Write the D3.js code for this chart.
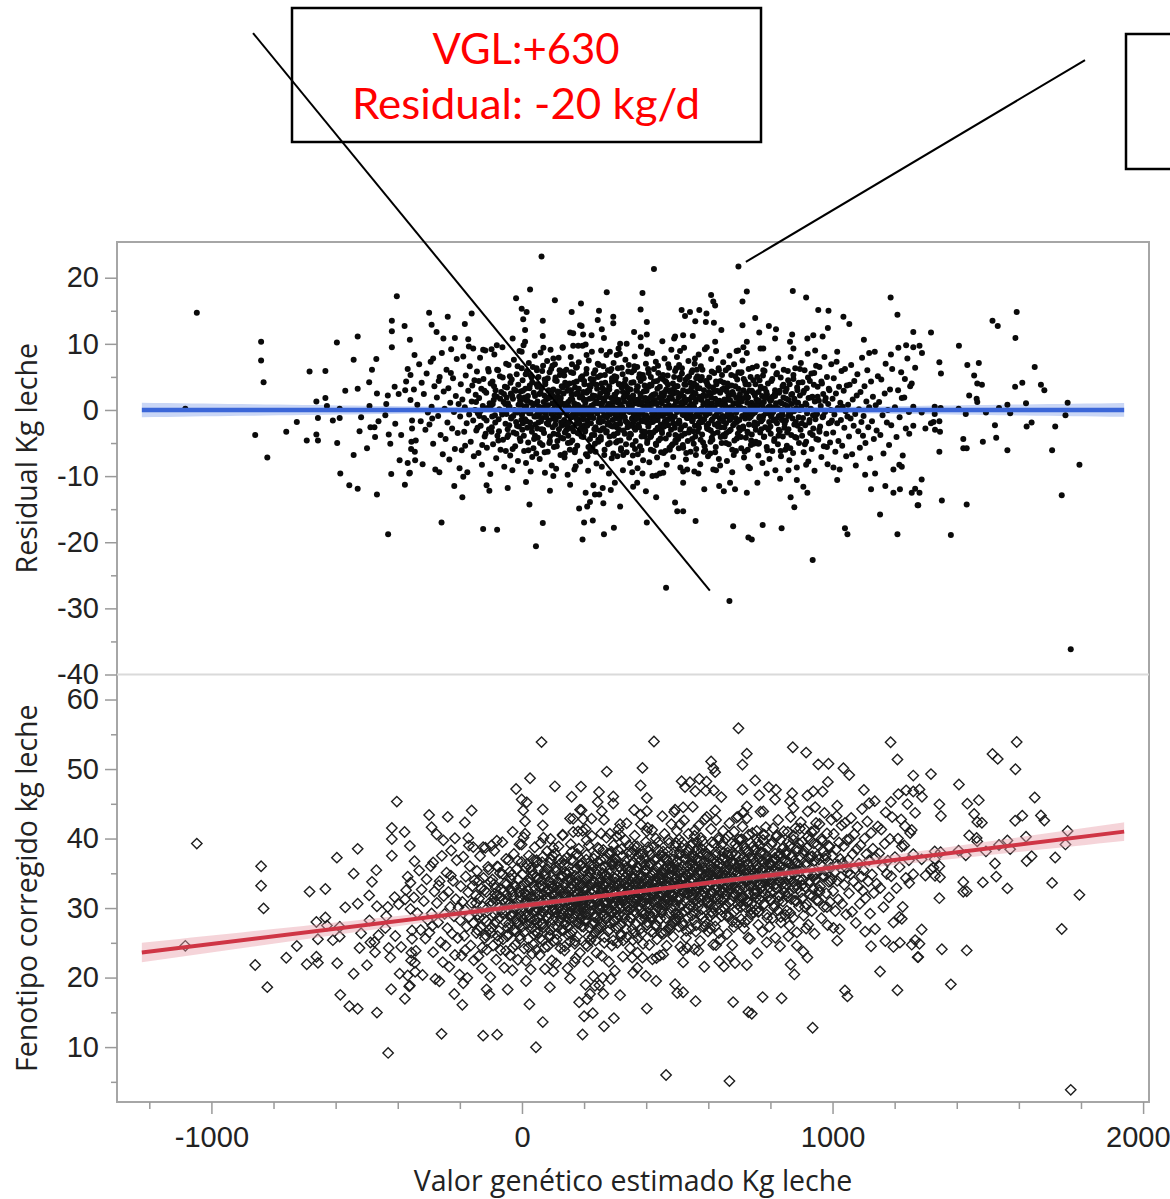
<!DOCTYPE html>
<meta charset="utf-8">
<head>
	<title>Residual y fenotipo corregido vs valor genético estimado</title>
</head>

<style>
body{
	margin: 0;
	background: #fff;
}
svg{
	display: block;
	background: #fff;
	font-family: "Open Sans", "Noto Sans", sans-serif;
}
.tick text{
	fill: #222;
	font-size: 29px;
}
.tick line{
	stroke: #9a9a9a;
	stroke-width: 1.5;
}
.titulo{
	fill: #222;
	font-size: 28.5px;
}
.nota{
	fill: #ff0000;
	font-family: Lato, "Open Sans", sans-serif;
	font-size: 43px;
}
</style>

<body>
<svg id="grafico" width="1170" height="1199"></svg>

<script src="https://cdnjs.cloudflare.com/ajax/libs/d3/7.8.5/d3.min.js"></script>
<script>

// valores: [VGL kg leche, residual kg leche]
var puntosIzquierda = [
	[-1047,14.7],[-1084,0.2],[-840,10.3],[-840,7.5],[-832,4.2],[-859,-3.8],[-820,-7.2],[-759,-3.3],[-725,-1.8],[-684,5.8],
	[-633,5.9],[-693,-4.6],[-662,-3.7],[-657,-4.6],[-662,1.3],[-633,1.8],[-657,-1.2],[-628,0.6],[-609,-1.6],[-596,10.2],
	[-595,-5.0],[-585,-9.6],[-587,0.2],[-587,-1.2],[-569,2.9],[-556,-11.4],[-542,-6.8],[-542,7.6],[-529,11.1],[-529,3.2],
	[-529,-11.9],[-523,-3.2],[-518,-1.1],[-499,-5.8],[-492,4.2],[-491,0.6],[-483,6.1],[-488,-2.6],[-475,-2.6],[-473,-4.1],
	[-467,-12.8],[-467,2.5],[-469,7.7],[-462,-1.7],[-440,-0.8],[-437,0.9],[-432,2.2],[-431,-18.8],[-429,-3.7],[-424,-5.1],
	[-421,-9.7],[-419,9.5],[-419,11.9],[-419,13.5],[-410,3.5],[-408,-2.1],[-403,17.2],[-397,2.4],[-394,-7.6],[-389,-3.8],
	[-378,12.7],[-377,-11.3],[-373,4.3],[-368,-8.0],[-368,6.2],[-361,10.6],[-361,-9.5],[-359,5.3],[-359,1.5],[-356,-4.8],
	[-354,-2.8],[-354,-1.6],[-357,-5.9],[-346,8.3],[-344,-7.6],[-376,3.0]
];

var puntosDerecha = [
	[1593,14.8],[1515,13.5],[1532,12.7],[1589,10.9],[1260,11.8],[1317,11.7],[1407,9.7],[1237,9.8],[1260,9.5],[1280,9.7],
	[1288,8.6],[1344,7.2],[1349,5.5],[1266,6.4],[1233,4.7],[1255,4.0],[1250,3.6],[1434,6.8],[1471,7.1],[1456,5.2],
	[1466,4.0],[1481,3.8],[1440,2.2],[1464,1.7],[1466,1.2],[1651,6.5],[1588,3.5],[1611,4.1],[1671,3.8],[1682,3.0],
	[1563,0.8],[1536,0.3],[1572,-0.5],[1623,1.0],[1757,1.1],[1750,-0.8],[1717,-2.5],[1625,-2.5],[1641,-1.9],[1523,-2.3],
	[1527,-4.2],[1563,-6.1],[1707,-6.1],[1795,-8.3],[1484,-4.8],[1421,-4.4],[1421,-5.8],[1432,-5.8],[1344,-6.3],[1738,-12.9],
	[1352,-13.7],[1432,-14.3],[1276,-14.4],[1287,-10.5],[1266,-11.9],[1255,-12.5],[1280,-12.5],[1381,-18.9],[1767,-36.2],[1406,0.2],
	[1429,-0.6],[1494,-0.4],[1329,0.5],[1329,-0.6],[1348,0.3],[1325,-1.8],[1344,-1.7],[1346,-3.3],[1330,-3.0],[1317,-2.0],
	[1299,-2.8],[1260,-2.4],[1247,-3.6],[1287,-0.4],[1260,0.5],[1223,-8.6],[1223,1.8]
];

var puntosArriba = [
	[63,23.2],[425,21.3],[697,21.7],[26,18.2],[-19,16.9],[106,16.6],[190,16.1],[273,17.8],[388,17.7],[724,17.9],
	[710,16.4],[872,18.0],[915,17.0],[1187,17.0],[1209,14.4],[609,17.4],[616,16.4],[622,15.8],[-299,14.7],[-239,14.1],
	[-162,14.6],[-184,13.0],[-291,12.9],[-275,11.8],[-253,10.8],[-216,10.9],[-173,10.7],[-157,9.3],[-125,9.1],[-98,9.2],
	[-81,9.8],[15,14.8],[-1,15.3],[4,13.7],[10,12.1],[10,10.3],[-30,10.8],[67,13.5],[67,11.2],[69,9.4],
	[160,14.8],[187,12.8],[192,12.7],[155,11.7],[165,11.6],[197,11.4],[224,11.3],[248,15.0],[244,13.6],[257,12.2],
	[264,10.9],[294,14.1],[294,13.1],[131,9.5],[165,9.7],[181,9.7],[316,10.0],[337,10.0],[361,11.8],[382,15.2],
	[402,13.3],[402,11.4],[382,11.0],[452,10.4],[490,10.8],[519,11.3],[550,11.2],[514,15.1],[525,14.2],[541,14.8],
	[558,13.4],[571,15.1],[594,14.6],[592,13.3],[618,13.2],[642,12.1],[710,12.8],[751,13.9],[764,11.7],[795,12.7],
	[818,12.2],[870,11.4],[954,15.1],[987,15.0],[985,12.4],[968,11.1],[919,10.8],[938,11.3],[1035,14.1],[1054,13.0],
	[1101,10.6],[1118,8.6],[1188,8.4],[1212,9.4],[1015,8.8],[944,9.0],[874,9.3],[863,10.3],[815,10.8],[777,9.3],
	[724,10.3],[713,9.5],[691,8.9],[622,10.3],[595,9.5],[557,7.8],[509,8.9],[493,11.1],[402,8.5],[283,8.8],
	[305,8.3],[208,8.3],[101,7.8],[-1,8.8],[-286,7.8]
];

var puntosAbajo = [
	[-259,-17.0],[-125,-18.0],[-80,-18.1],[45,-20.6],[67,-17.1],[24,-14.3],[195,-19.6],[200,-17.0],[228,-16.7],[264,-18.8],
	[296,-17.8],[184,-14.9],[210,-14.6],[219,-13.9],[262,-14.1],[316,-14.6],[402,-17.0],[464,-26.9],[668,-28.9],[493,-14.0],
	[500,-15.3],[519,-15.3],[559,-16.8],[680,-17.6],[729,-19.3],[740,-19.6],[775,-17.4],[836,-17.9],[936,-22.7],[1040,-17.9],
	[1048,-18.8],[1209,-18.8],[1153,-15.8],[1274,-14.4],[877,-14.7],[865,-13.2],[432,-13.2],[399,-12.3],[371,-11.0],[358,-11.6],
	[-363,-9.6],[-266,-9.4],[-218,-11.5],[-192,-13.2],[-189,-10.1],[-114,-11.4],[-105,-12.2],[-46,-11.8],[13,-10.9],[90,-12.2],
	[101,-10.0],[155,-11.3],[205,-12.5],[230,-11.4],[235,-12.8],[249,-12.8],[260,-11.8],[286,-12.1],[299,-11.0],[519,-11.0],
	[587,-12.0],[635,-11.5],[650,-12.3],[686,-12.0],[724,-12.5],[758,-11.0],[885,-10.6],[906,-11.6],[919,-12.5],[1015,-10.6],
	[1124,-12.0],[1170,-11.5],[1196,-12.5],[1217,-12.0],[1105,-9.8],[1137,-9.6],[1003,-8.7],[1215,-8.3],[915,-8.3],[858,-9.1],
	[831,-10.4],[788,-9.6],[729,-8.6],[670,-11.0],[625,-9.1],[568,-9.6],[519,-9.3],[444,-9.6],[420,-10.0],[388,-9.6]
];

var puntosCentro = [
	[-348,3.1],[-342,-4.6],[-337,0.8],[-331,6.9],[-326,-1.7],[-320,-8.2],[-316,2.4],[-311,-3.0],[-307,5.5],[-303,-0.4],[-345,-6.3],[-323,4.1],
	[-298,-2.2],[-294,7.3],[-291,0.5],[-286,-5.1],[-282,3.6],[-279,-9.0],[-274,1.9],[-270,-0.9],[-265,5.0],[-262,-3.8],[-258,8.6],[-255,-6.7],[-252,2.8],[-289,-1.3],[-268,4.4],
	[-249,0.2],[-246,-4.4],[-243,6.1],[-240,-1.9],[-237,3.3],[-234,-7.5],[-231,1.1],[-228,9.2],[-225,-2.8],[-222,4.8],[-219,-0.3],[-216,-5.9],[-213,2.1],[-210,7.7],[-207,-3.5],[-204,0.9],[-201,-8.8],[-229,5.6],
	[-199,-1.0],[-197,3.9],[-194,-6.1],[-192,1.6],[-189,8.1],[-186,-3.3],[-184,0.4],[-181,5.2],[-178,-2.0],[-176,-9.4],[-173,2.9],[-170,-0.7],[-168,6.6],[-165,-4.8],[-162,1.3],[-160,3.7],[-157,-1.6],[-155,-7.0],[-153,4.5],[-151,0.0],[-183,-5.4],[-171,9.6],
	[-149,2.3],[-147,-3.1],[-145,5.8],[-142,-0.5],[-140,-6.5],[-138,1.8],[-135,7.9],[-133,-2.4],[-131,3.2],[-129,-8.3],[-126,0.6],[-124,4.7],[-122,-1.2],[-120,-4.0],[-118,9.0],[-115,2.6],[-113,-5.7],[-111,0.3],[-109,6.2],[-106,-2.9],[-104,1.0],[-102,-9.7],[-101,4.0],[-137,-0.9],[-117,-3.6],
	[-99,0.7],[-97,-2.6],[-95,4.3],[-93,-5.2],[-91,1.5],[-89,8.4],[-87,-0.8],[-85,3.0],[-83,-7.3],[-81,2.0],[-79,-3.9],[-77,6.0],[-75,-1.4],[-73,0.1],[-71,5.1],[-69,-6.0],[-67,2.7],[-65,-0.2],[-63,9.5],[-61,-4.5],[-59,1.2],[-57,-8.6],[-55,3.5],[-53,-2.1],[-51,7.0],[-96,-1.0],[-88,2.2],[-74,-3.2],[-62,4.9],[-54,0.9],
	[-50,-0.6],[-48,3.4],[-47,-4.1],[-45,1.0],[-43,6.8],[-41,-2.3],[-40,0.5],[-38,-6.9],[-36,2.5],[-34,-1.1],[-33,4.6],[-31,-9.1],[-29,1.7],[-27,-3.4],[-26,7.6],[-24,0.0],[-22,-5.5],[-20,2.9],[-19,-1.8],[-17,5.4],[-15,-0.4],[-13,-7.7],[-12,3.8],[-10,-2.5],[-8,8.9],[-6,1.4],[-5,-4.7],[-3,0.8],[-1,6.3],[-46,-2.9],[-37,4.1],[-28,-0.9],[-18,-3.6],[-9,2.0],[-2,-1.5],
	[1,-3.0],[2,4.5],[4,-0.3],[5,9.8],[7,-6.2],[8,1.9],[10,-1.4],[11,3.2],[13,-8.0],[14,0.6],[16,5.9],[17,-2.7],[19,2.1],[20,-4.9],[22,7.1],[23,-0.5],[25,3.7],[26,-1.9],[28,-9.3],[29,1.1],[31,4.9],[32,-3.3],[34,0.2],[35,6.5],[37,-5.8],[38,2.6],[40,-1.0],[41,8.2],[43,-2.2],[44,0.9],[46,-6.6],[47,3.9],[49,-0.7],[3,-2.0],[12,1.5],[21,-0.1],[27,5.3],[33,-7.1],[42,-3.9],[48,6.0],
	[50,1.3],[51,-4.2],[53,5.0],[54,-0.9],[56,2.4],[57,-7.4],[59,0.1],[60,8.7],[62,-2.9],[63,3.3],[65,-1.2],[66,-5.3],[68,6.7],[69,0.4],[71,-3.5],[72,2.2],[74,-9.5],[75,4.2],[77,-0.6],[78,1.6],[80,-2.0],[81,7.4],[83,-6.3],[84,0.7],[86,3.0],[87,-1.6],[89,5.7],[90,-4.0],[92,9.1],[93,-0.2],[95,2.8],[96,-8.4],[98,1.0],[99,-2.6],[52,3.6],[61,-1.7],[67,-3.0],[73,4.6],[82,1.9],[88,-5.0],[94,6.2],[97,0.0],
	[100,-1.3],[101,3.1],[103,-5.6],[104,0.8],[106,6.9],[107,-2.2],[109,1.4],[110,-8.9],[112,4.4],[113,-0.4],[115,2.0],[116,-3.7],[118,7.9],[119,-1.0],[121,0.3],[122,5.3],[124,-6.8],[125,1.8],[127,-2.4],[128,3.6],[130,-0.1],[131,9.4],[133,-4.3],[134,2.5],[136,-1.5],[137,-7.2],[139,4.1],[140,0.6],[142,-3.1],[143,6.1],[145,-0.8],[146,2.9],[148,-5.0],[149,1.2],[102,-0.9],[108,4.9],[114,-4.7],[120,2.7],[126,-1.9],[132,0.9],[138,-3.4],[144,3.8],[147,-9.8],[135,5.8],
	[150,0.5],[151,-2.8],[153,4.0],[154,-6.0],[156,1.6],[157,8.0],[159,-1.1],[160,2.3],[162,-4.6],[163,0.0],[165,5.6],[166,-3.2],[168,1.0],[169,-9.0],[171,3.4],[172,-0.6],[174,6.4],[175,-2.1],[177,0.8],[178,-5.4],[180,2.6],[181,-1.4],[183,7.2],[184,-3.6],[186,1.9],[187,-7.8],[189,4.7],[190,-0.3],[192,2.1],[193,-2.5],[195,9.7],[196,0.4],[198,-4.1],[199,1.5],[152,-1.8],[158,3.0],[164,-0.7],[170,-6.4],[176,4.3],[182,0.2],[188,-2.9],[194,5.1],[197,-1.0],[161,6.9],[173,-8.5],[185,-0.1],
	[200,-0.2],[201,3.9],[203,-3.3],[204,1.1],[206,-6.7],[207,5.5],[209,0.3],[210,-1.6],[212,2.9],[213,-9.2],[215,7.5],[216,-0.9],[218,1.7],[219,-4.4],[221,3.5],[222,-2.0],[224,0.6],[225,8.8],[227,-5.7],[228,2.2],[230,-1.2],[231,4.6],[233,-3.8],[234,0.0],[236,6.0],[237,-2.6],[239,1.3],[240,-8.1],[242,3.2],[243,-0.5],[245,5.0],[246,-4.8],[248,1.9],[249,-1.4],[202,-2.3],[208,2.6],[214,-0.4],[220,-6.2],[226,4.0],[232,0.9],[238,-3.0],[244,7.0],[247,-1.8],[205,9.9],[211,-7.0],[217,3.7],[223,-0.8],[235,-5.1],
	[250,2.0],[251,-1.9],[253,5.2],[254,-4.5],[256,0.7],[257,-8.6],[259,3.3],[260,-0.2],[262,6.6],[263,-2.8],[265,1.4],[266,-6.0],[268,4.1],[269,0.1],[271,-3.4],[272,8.3],[274,-1.1],[275,2.5],[277,-5.2],[278,0.9],[280,-9.6],[281,3.6],[283,-0.7],[284,5.9],[286,-2.4],[287,1.8],[289,-7.3],[290,4.8],[292,-1.5],[293,0.4],[295,7.1],[296,-3.9],[298,2.3],[299,-0.6],[252,-3.1],[258,1.0],[264,-0.9],[270,3.0],[276,-2.2],[282,-4.0],[288,6.2],[294,-6.6],[297,1.2],[255,9.0],[261,-1.7],[267,2.8],[279,-0.3],[291,4.4],
	[300,-1.3],[301,4.5],[303,-4.9],[304,0.2],[306,2.7],[307,-7.0],[309,6.3],[310,-0.8],[312,1.5],[313,-3.0],[315,8.5],[316,-2.1],[318,0.6],[319,-5.8],[321,3.4],[322,-1.0],[324,5.4],[325,-9.1],[327,1.9],[328,-0.4],[330,4.0],[331,-3.6],[333,7.6],[334,-1.7],[336,0.0],[337,-6.4],[339,2.6],[340,-2.6],[342,5.8],[343,0.8],[345,-4.2],[346,1.1],[348,-8.0],[349,3.1],[302,1.7],[308,-3.5],[314,3.9],[320,-0.5],[326,-6.8],[332,2.2],[338,-1.9],[344,6.8],[347,-0.2],[305,-2.6],[311,9.3],[317,-4.6],[323,0.4],[335,3.6],
	[350,0.3],[351,-3.7],[353,5.7],[354,-1.3],[356,2.0],[357,-6.9],[359,4.2],[360,-0.1],[362,-2.7],[363,8.1],[365,1.0],[366,-4.7],[368,3.0],[369,-0.7],[371,6.5],[372,-8.8],[374,1.6],[375,-2.2],[377,4.9],[378,-0.5],[380,-5.5],[381,2.4],[383,9.6],[384,-1.6],[386,0.8],[387,-3.2],[389,5.3],[390,-7.6],[392,2.8],[393,-0.9],[395,3.7],[396,-4.0],[398,0.5],[399,7.0],[352,1.4],[358,-2.0],[364,-5.9],[370,2.9],[376,-1.0],[382,4.4],[388,-0.3],[394,-3.4],[397,1.8],[355,-9.4],[361,6.0],[367,-1.4],[373,3.5],[385,-6.1],
	[400,-0.8],[401,2.9],[403,-5.0],[404,1.2],[406,6.2],[407,-2.5],[409,0.4],[410,-7.9],[412,3.8],[413,-1.2],[415,5.0],[416,-3.9],[418,0.0],[419,8.6],[421,-1.8],[422,2.3],[424,-6.2],[425,4.3],[427,-0.4],[428,1.5],[430,-3.1],[431,7.3],[433,-9.9],[434,0.9],[436,3.2],[437,-1.5],[439,5.6],[440,-4.6],[442,1.9],[443,-0.6],[445,-2.9],[446,4.8],[448,-6.4],[449,2.5],[402,-1.9],[408,3.5],[414,-4.1],[420,1.1],[426,-0.9],[432,-5.3],[438,6.7],[444,0.2],[447,-2.2],[405,9.0],[411,-3.4],[417,2.1],[423,-0.2],[435,-7.2],
	[450,1.0],[451,-3.5],[453,4.7],[454,-0.9],[456,-6.5],[457,2.2],[459,7.8],[460,-1.7],[462,0.5],[463,-4.3],[465,3.1],[466,-8.3],[468,1.4],[469,5.2],[471,-2.3],[472,0.1],[474,6.4],[475,-5.7],[477,2.7],[478,-0.7],[480,-3.0],[481,9.1],[483,1.7],[484,-1.4],[486,4.0],[487,-7.1],[489,0.6],[490,3.3],[492,-2.7],[493,5.9],[495,-4.9],[496,1.3],[498,-0.2],[499,8.0],[452,2.0],[458,-2.1],[464,-0.5],[470,3.8],[476,-6.0],[482,-1.1],[488,2.5],[494,-3.8],[497,6.3],[455,-9.5],[461,4.4],[467,-1.6],[473,0.7],[485,-5.2],
	[500,-0.3],[501,3.6],[503,-4.4],[504,1.9],[506,6.8],[507,-1.9],[509,0.3],[510,-8.7],[512,2.4],[513,-2.6],[515,5.5],[516,0.7],[518,-5.3],[519,3.0],[521,-0.8],[522,9.4],[524,-3.6],[525,1.1],[527,4.6],[528,-7.5],[530,0.2],[531,-1.2],[533,2.8],[534,-4.7],[536,7.4],[537,-0.4],[539,1.6],[540,-2.9],[542,4.1],[543,-6.3],[545,0.9],[546,3.4],[548,-1.7],[549,6.0],[502,-2.0],[508,4.9],[514,-3.9],[520,1.3],[526,-0.6],[532,-9.0],[538,5.1],[544,-1.0],[547,2.0],[505,-5.8],[511,0.0],[523,3.9],
	[550,-1.5],[551,2.6],[553,-5.1],[554,0.5],[556,7.0],[557,-2.4],[559,1.2],[560,-6.8],[562,3.7],[563,-0.6],[565,5.1],[566,-3.3],[568,0.0],[569,8.4],[571,-1.9],[572,2.0],[574,-8.2],[575,4.5],[577,-0.3],[578,1.5],[580,-3.7],[581,6.1],[583,-4.9],[584,0.8],[586,3.0],[587,-1.4],[589,9.2],[590,-6.1],[592,2.1],[593,-0.8],[595,4.2],[596,-2.8],[598,0.4],[599,-7.0],[552,1.9],[558,-4.0],[564,3.3],[570,-2.0],[576,6.6],[582,-0.1],[588,-5.5],[594,1.0],[597,3.8],[555,-9.3],[561,4.8],[573,-1.1],
	[600,0.6],[601,-2.9],[603,4.9],[604,-0.5],[606,-6.6],[607,2.3],[609,7.7],[610,-1.6],[612,1.0],[613,-4.5],[615,3.4],[616,-9.0],[618,0.2],[619,5.6],[621,-2.2],[622,1.7],[624,-5.6],[625,8.9],[627,-0.7],[628,2.9],[630,-3.4],[631,0.9],[633,6.3],[634,-7.4],[636,1.4],[637,-1.3],[639,4.4],[640,-2.6],[642,0.0],[643,-5.0],[645,3.1],[646,-0.9],[648,7.2],[649,-3.8],[602,2.7],[608,-3.1],[614,0.4],[620,-1.0],[626,3.9],[632,-2.0],[638,-8.4],[644,5.3],[647,1.2],[611,-4.2],
	[650,-1.1],[651,3.3],[653,-4.0],[654,0.8],[656,6.0],[657,-2.0],[659,1.5],[660,-7.7],[662,4.0],[663,-0.2],[665,2.2],[666,-5.2],[668,8.2],[669,-1.5],[671,0.4],[672,-3.0],[674,5.3],[675,-0.8],[677,-9.4],[678,2.7],[680,-2.3],[681,1.0],[683,6.9],[684,-4.6],[686,0.0],[687,3.6],[689,-6.2],[690,1.8],[692,-1.8],[693,4.6],[695,-3.6],[696,9.0],[698,0.6],[699,-2.7],[652,1.6],[658,-3.5],[664,3.6],[670,-0.6],[676,2.4],[682,-6.8],[688,-1.2],[694,0.9],[697,5.7],[661,-1.0],
	[700,2.0],[701,-3.1],[703,0.4],[704,5.6],[706,-5.8],[707,1.3],[709,-0.9],[710,7.5],[712,-2.5],[713,3.0],[715,-7.2],[716,0.2],[718,4.3],[719,-1.3],[721,-4.2],[722,2.5],[724,8.6],[725,-0.4],[727,-6.0],[728,1.9],[730,3.8],[731,-2.2],[733,0.0],[734,-8.8],[736,5.0],[737,-1.0],[739,1.1],[740,-3.7],[742,6.4],[743,-0.6],[745,2.6],[746,-5.1],[748,0.7],[749,-1.9],[702,1.5],[708,-2.8],[714,4.7],[720,-0.3],[726,-3.3],[732,2.9],[738,-4.6],[744,0.5],
	[750,-0.4],[752,3.9],[753,-4.8],[755,1.6],[756,6.6],[758,-2.1],[759,0.3],[761,-6.9],[762,2.7],[764,-1.2],[765,4.5],[767,-3.4],[768,9.3],[770,0.9],[771,-1.7],[773,2.1],[774,-8.0],[776,5.2],[777,-0.9],[779,1.2],[780,-4.0],[782,3.2],[783,-2.6],[785,7.0],[786,0.1],[788,-5.6],[789,2.3],[791,-0.5],[792,4.0],[794,-3.0],[795,1.7],[797,-7.4],[798,0.6],[751,-2.4],[757,1.0],[763,-5.0],[769,3.5],[775,-1.4],[781,5.9],[787,-0.2],
	[800,1.4],[801,-3.6],[803,4.4],[804,-0.7],[806,-6.2],[807,2.0],[809,6.7],[810,-1.6],[812,0.4],[813,-4.4],[815,3.0],[816,-9.1],[818,1.0],[819,5.4],[821,-2.0],[822,0.2],[824,-5.2],[825,7.8],[827,-0.9],[828,2.6],[830,-3.2],[831,1.2],[833,4.9],[834,-7.0],[836,0.0],[837,-1.5],[839,3.6],[840,-4.0],[842,1.9],[843,6.1],[845,-2.7],[846,0.8],[848,-6.0],[849,2.8],[802,-1.0],[814,2.4],[826,-3.9],[838,-0.4],
	[850,-1.6],[852,3.2],[853,-5.4],[855,0.6],[856,5.9],[858,-2.9],[859,1.5],[861,-7.6],[862,3.9],[864,-0.6],[865,8.0],[867,-3.8],[868,0.9],[870,2.4],[871,-1.3],[873,-6.5],[874,4.7],[876,-0.2],[877,1.7],[879,-4.1],[880,6.3],[882,-1.8],[883,0.3],[885,-8.7],[886,3.4],[888,-2.4],[889,1.1],[891,4.1],[892,-5.0],[894,0.0],[895,2.2],[897,-3.0],[898,7.1],[857,-0.9],
	[900,0.5],[902,-3.9],[903,4.2],[905,-1.2],[907,-6.4],[908,2.9],[910,6.0],[912,-2.3],[913,1.0],[915,-4.8],[917,3.3],[918,-0.5],[920,8.5],[922,-7.8],[923,1.8],[925,-1.9],[927,4.4],[928,-3.5],[930,0.2],[932,5.5],[933,-5.9],[935,2.0],[937,-0.8],[938,-2.8],[940,3.8],[942,-9.2],[943,1.3],[945,-1.4],[947,6.7],[948,-4.4],
	[950,-0.6],[952,3.5],[954,-4.5],[956,1.4],[958,6.5],[960,-2.5],[962,0.6],[964,-7.1],[966,4.0],[968,-1.1],[970,2.4],[972,-5.5],[974,8.0],[976,-0.3],[978,1.8],[980,-3.6],[982,5.0],[984,-8.2],[986,0.9],[988,-2.0],[990,3.0],[992,-4.9],[994,0.0],[996,6.9],[998,-1.6],[957,-3.0],
	[1000,1.7],[1002,-3.4],[1004,4.8],[1006,-0.7],[1009,-6.3],[1011,2.5],[1013,7.3],[1015,-2.0],[1017,0.3],[1019,-4.7],[1021,3.5],[1023,-9.0],[1025,1.1],[1027,-1.5],[1029,5.9],[1031,-5.4],[1033,0.5],[1036,2.9],[1038,-2.7],[1040,6.2],[1042,-0.2],[1044,-7.0],[1046,3.7],[1048,-1.0],
	[1050,0.8],[1053,-4.0],[1055,3.8],[1058,-1.3],[1060,6.8],[1063,-6.7],[1065,1.6],[1068,-2.4],[1070,4.4],[1073,-0.6],[1075,-8.4],[1078,2.2],[1080,5.4],[1083,-3.2],[1085,0.1],[1088,-5.7],[1090,2.7],[1093,-1.8],[1095,7.9],[1098,-3.9],
	[1100,-0.9],[1103,3.6],[1106,-5.0],[1109,1.3],[1112,6.0],[1115,-2.6],[1118,0.4],[1121,-7.3],[1124,4.3],[1127,-1.7],[1130,2.0],[1133,-4.4],[1136,8.8],[1139,0.7],[1142,-3.1],[1146,5.1],
	[1150,1.2],[1154,-3.8],[1157,4.6],[1161,-0.8],[1164,-6.6],[1168,2.5],[1171,7.0],[1175,-1.9],[1178,0.0],[1182,-5.3],[1185,3.1],[1189,-2.3],[1192,6.2],[1196,-9.0],
	[1201,0.4],[1206,-4.1],[1211,3.0],[1216,-1.1],[1221,5.7],[1226,-6.9],[1231,1.9],[1236,-2.8],[1241,7.8],[1246,-0.3]
];

// nucleo mas denso (VGL 0-900, residual entre -7 y 7)
var puntosNucleo = [
	[-148,1.2],[-143,-2.7],[-139,4.4],[-134,-0.2],[-128,-5.3],[-121,2.9],[-114,-1.6],[-107,5.8],
	[-98,-3.3],[-94,0.9],[-90,3.6],[-86,-1.9],[-80,6.1],[-76,-4.6],[-70,1.7],[-64,-0.7],[-58,2.4],[-52,-6.2],
	[-49,1.9],[-44,-3.8],[-42,0.4],[-39,5.1],[-35,-1.3],[-32,2.2],[-30,-5.9],[-25,3.1],[-21,-0.2],[-16,-2.4],[-14,6.6],[-11,0.8],[-7,-4.3],[-4,2.8],
	[0,-0.8],[3,2.9],[6,-3.9],[9,0.3],[12,5.4],[15,-1.7],[18,1.4],[21,-6.1],[24,3.3],[27,-0.5],[30,-2.6],[33,4.2],[36,0.9],[39,-4.4],[42,2.1],[45,-1.0],[47,6.3],[49,-2.8],
	[50,3.5],[53,-1.9],[55,0.5],[58,-5.0],[60,2.6],[63,-0.3],[65,5.9],[68,-3.0],[70,1.2],[73,-6.4],[75,3.9],[78,-1.1],[80,0.7],[83,4.8],[85,-2.2],[88,1.8],[90,-4.7],[93,2.3],[95,-0.6],[98,6.7],
	[100,2.1],[102,-3.6],[105,0.0],[107,4.5],[109,-1.5],[112,-5.5],[114,2.8],[117,0.6],[119,-2.9],[121,6.0],[124,1.3],[126,-4.2],[128,-0.4],[131,3.4],[133,-1.8],[136,5.2],[138,-6.6],[140,0.9],[143,-2.3],[145,3.7],[147,-0.1],[149,-3.9],
	[150,-2.0],[152,3.0],[154,0.2],[156,-4.9],[158,5.7],[160,-0.9],[162,1.6],[164,-2.6],[167,4.1],[169,0.4],[171,-6.0],[173,2.4],[175,-1.3],[177,6.5],[179,-3.5],[181,0.7],[183,3.2],[185,-2.1],[187,-0.6],[190,4.9],[192,-4.0],[194,1.9],[196,-1.4],[198,2.7],
	[200,4.4],[202,-0.7],[204,-3.1],[206,1.5],[208,6.2],[210,-2.4],[212,0.1],[214,-5.6],[217,2.9],[219,-1.1],[221,4.7],[223,0.6],[225,-3.8],[227,1.8],[229,-0.2],[231,5.5],[233,-2.9],[235,2.1],[237,-6.3],[240,3.8],[242,-0.5],[244,1.0],[246,-4.5],[248,6.8],
	[250,-1.2],[252,2.5],[254,-4.1],[256,4.0],[258,0.3],[260,-2.8],[262,1.7],[265,-6.8],[267,5.3],[269,-0.8],[271,2.0],[273,-3.2],[275,0.5],[277,6.0],[279,-1.9],[281,3.1],[283,-5.0],[285,0.9],[287,-0.4],[290,4.3],[292,-2.5],[294,1.4],[296,-3.7],[298,5.1],
	[300,2.3],[302,-2.2],[304,5.0],[306,-0.6],[308,-4.7],[310,1.1],[312,3.9],[315,-1.5],[317,0.8],[319,-6.1],[321,6.4],[323,-0.9],[325,2.7],[327,-3.1],[329,1.3],[331,-1.1],[333,4.6],[335,-5.2],[337,0.0],[340,3.3],[342,-2.0],[344,1.9],[346,-0.3],[348,-3.6],
	[350,-2.4],[352,4.1],[354,0.6],[356,-5.3],[358,2.2],[360,-0.8],[362,6.6],[365,-3.0],[367,1.5],[369,-1.2],[371,3.6],[373,-6.7],[375,0.9],[377,-2.6],[379,5.4],[381,-0.1],[383,2.0],[385,-4.0],[387,1.2],[390,-1.7],[392,4.8],[394,0.3],[396,-3.3],[398,2.9],
	[400,3.0],[402,-1.3],[404,-4.6],[406,0.7],[408,5.6],[410,-2.0],[412,1.8],[415,-6.0],[417,3.7],[419,-0.5],[421,0.9],[423,-3.4],[425,6.2],[427,-1.6],[429,2.4],[431,-5.1],[433,1.0],[435,4.4],[437,-2.7],[440,0.2],[442,-0.9],[444,3.5],[446,-4.3],[448,1.6],
	[450,-3.1],[452,1.4],[454,5.3],[456,-0.4],[458,-2.5],[460,2.7],[462,-6.2],[465,4.2],[467,0.5],[469,-1.4],[471,6.9],[473,-3.7],[475,1.9],[477,-0.8],[479,3.0],[481,-5.4],[483,0.1],[485,2.5],[487,-2.0],[490,5.0],[492,-1.0],[494,-4.6],[496,1.2],[498,3.6],
	[500,2.6],[502,-4.0],[504,0.4],[506,-1.6],[508,4.6],[510,-3.0],[512,1.1],[515,6.3],[517,-0.7],[519,-5.7],[521,2.0],[523,0.0],[525,-2.3],[527,3.8],[529,-6.5],[531,1.5],[533,4.9],[535,-1.2],[537,-3.4],[540,0.6],[542,2.9],[544,-0.3],[546,5.7],[548,-4.4],
	[550,0.7],[552,-3.2],[554,4.0],[557,-1.0],[559,2.5],[561,-5.9],[563,6.1],[566,-0.4],[568,1.7],[570,-2.7],[572,3.3],[575,-4.5],[577,0.2],[579,5.0],[581,-1.8],[583,2.2],[586,-6.3],[588,0.9],[590,-0.6],[592,4.4],[595,-2.4],[597,1.3],
	[600,-2.1],[602,3.6],[604,0.1],[607,-4.8],[609,1.9],[611,5.8],[613,-1.4],[616,-3.6],[618,2.7],[620,0.4],[622,-6.4],[625,4.3],[627,-0.9],[629,1.4],[631,-2.5],[634,6.0],[636,-0.2],[638,2.6],[640,-4.1],[643,0.8],[645,3.1],[648,-1.7],
	[650,4.1],[652,-2.6],[655,0.6],[657,-5.0],[660,2.8],[662,-0.7],[665,6.4],[667,-3.2],[670,1.5],[672,-1.3],[675,3.7],[677,-6.0],[680,0.2],[682,2.3],[685,-2.0],[687,5.1],[690,-0.4],[692,-4.3],[695,1.0],[697,3.2],
	[700,-1.5],[702,2.4],[705,-4.1],[707,5.7],[710,0.1],[712,-2.8],[715,1.8],[717,-6.3],[720,3.9],[722,-0.6],[725,1.1],[727,-3.5],[730,6.2],[732,-1.2],[735,0.5],[737,-5.3],[740,2.9],[742,-0.1],[745,4.5],[747,-2.3],
	[750,2.2],[753,-3.0],[755,0.0],[758,5.0],[761,-5.1],[763,1.4],[766,-1.0],[769,3.3],[771,-2.9],[774,0.7],[777,6.0],[779,-4.1],[782,1.9],[785,-0.5],[787,2.7],[790,-6.1],[793,0.4],[796,-1.8],
	[800,-2.5],[803,1.6],[806,4.7],[809,-0.3],[812,-4.7],[815,2.1],[818,-1.4],[821,5.6],[824,0.3],[827,-3.0],[830,2.9],[833,-6.2],[836,1.0],[839,-0.8],[842,3.8],[846,-2.1],
	[851,1.7],[854,-3.4],[857,4.5],[860,-0.4],[864,-5.8],[867,2.3],[870,0.0],[874,5.3],[877,-2.2],[880,1.2],[884,-4.2],[887,3.0],[891,-1.1],[895,6.2],
	[901,-2.0],[906,2.6],[911,-5.2],[916,0.8],[921,4.9],[926,-1.5],[931,1.9],[936,-3.8],[941,5.6],[946,-0.7],
	[952,2.0],[958,-3.3],[964,4.3],[970,-0.9],[976,1.4],[982,-5.6],[988,3.2],[994,-1.9]
];

// recta de regresion del fenotipo corregido sobre el VGL
var intercepto = 30.33;
var pendiente = 0.0055;
var rangoRecta = [-1224, 1939];

var ticksX = [-1000, 0, 1000, 2000];
var ticksXMenores = [-1200, -800, -600, -400, -200, 200, 400, 600, 800, 1200, 1400, 1600, 1800];
var ticksResidual = [-40, -30, -20, -10, 0, 10, 20];
var ticksResidualMenores = [-35, -25, -15, -5, 5, 15];
var ticksFenotipo = [10, 20, 30, 40, 50, 60];
var ticksFenotipoMenores = [5, 15, 25, 35, 45, 55];

var notaTextos = ['VGL:+630', 'Residual: -20 kg/d'];
// flechas de la nota: extremo libre y punto señalado, en unidades de los ejes del panel superior
var flechas = [
	{x1: -866, y1: 57.0, x2: 605, y2: -27.3},
	{x1: 1813, y1: 52.9, x2: 721, y2: 22.4}
];

var datos = puntosIzquierda.concat(puntosCentro, puntosNucleo, puntosArriba, puntosAbajo, puntosDerecha)
	.map(function(d){
		return {vgl: d[0], residual: d[1], fenotipo: intercepto + pendiente*d[0] + d[1]};
	});

// --- escalas ---
var izq = 117, der = 1149, arriba = 242, medio = 674.5, abajo = 1102;

var x = d3.scaleLinear().domain([-1304, 2019]).range([izq, der]);
var yRes = d3.scaleLinear().domain([-40, 25.4]).range([medio, arriba]);
var yFen = d3.scaleLinear().domain([2.1, 63.6]).range([abajo, medio]);

var svg = d3.select('#grafico');

// banda de confianza: semiancho crece al alejarse de la media del VGL
function semiancho(v, h0, h1){
	var t = (v - 400)/1600;
	return Math.sqrt(h0*h0 + h1*h1*t*t);
}
var xsBanda = d3.range(rangoRecta[0], rangoRecta[1], 40).concat([rangoRecta[1]]);

// --- panel superior: residual ---
var gSup = svg.append('g');

gSup.append('path')
	.datum(xsBanda)
	.attr('fill', '#c9d6f6')
	.attr('d', d3.area()
		.x(function(d){ return x(d); })
		.y0(function(d){ return yRes(-semiancho(d, 0.25, 1.05)); })
		.y1(function(d){ return yRes(semiancho(d, 0.25, 1.05)); }));

gSup.selectAll('circle')
	.data(datos)
	.enter()
	.append('circle')
	.attr('cx', function(d){ return x(d.vgl); })
	.attr('cy', function(d){ return yRes(d.residual); })
	.attr('r', 3)
	.attr('fill', '#0a0a0a');

gSup.append('line')
	.attr('x1', x(rangoRecta[0]))
	.attr('x2', x(rangoRecta[1]))
	.attr('y1', yRes(0))
	.attr('y2', yRes(0))
	.attr('stroke', '#3b66d8')
	.attr('stroke-width', 4.5);

// --- panel inferior: fenotipo corregido ---
var gInf = svg.append('g');

gInf.selectAll('path.punto')
	.data(datos)
	.enter()
	.append('path')
	.attr('class', 'punto')
	.attr('d', 'M0,-5.2L5.2,0L0,5.2L-5.2,0Z')
	.attr('transform', function(d){
		return 'translate(' + x(d.vgl) + ',' + yFen(d.fenotipo) + ')';
	})
	.attr('fill', 'none')
	.attr('stroke', '#1e1e1e')
	.attr('stroke-width', 1.4);

gInf.append('path')
	.datum(xsBanda)
	.attr('fill', '#e8a0ab')
	.attr('fill-opacity', 0.45)
	.attr('d', d3.area()
		.x(function(d){ return x(d); })
		.y0(function(d){ return yFen(intercepto + pendiente*d - semiancho(d, 0.3, 1.35)); })
		.y1(function(d){ return yFen(intercepto + pendiente*d + semiancho(d, 0.3, 1.35)); }));

gInf.append('line')
	.attr('x1', x(rangoRecta[0]))
	.attr('x2', x(rangoRecta[1]))
	.attr('y1', yFen(intercepto + pendiente*rangoRecta[0]))
	.attr('y2', yFen(intercepto + pendiente*rangoRecta[1]))
	.attr('stroke', '#cf3545')
	.attr('stroke-width', 4);

// --- marco ---
svg.append('rect')
	.attr('x', izq)
	.attr('y', arriba)
	.attr('width', der - izq)
	.attr('height', abajo - arriba)
	.attr('fill', 'none')
	.attr('stroke', '#a6a6a6')
	.attr('stroke-width', 2);

svg.append('line')
	.attr('x1', izq)
	.attr('x2', der)
	.attr('y1', medio)
	.attr('y2', medio)
	.attr('stroke', '#dadada')
	.attr('stroke-width', 2);

// --- ejes ---
function eje(g){
	g.select('.domain').remove();
}
function entero(d){
	return String(d);
}

svg.append('g')
	.attr('transform', 'translate(0,' + abajo + ')')
	.call(d3.axisBottom(x).tickValues(ticksXMenores).tickSize(7).tickFormat(''))
	.call(eje);
svg.append('g')
	.attr('transform', 'translate(0,' + abajo + ')')
	.call(d3.axisBottom(x).tickValues(ticksX).tickSize(12).tickPadding(8).tickFormat(entero))
	.call(eje)
	.selectAll('text')
	.attr('dy', '0.85em')
	.filter(function(d){ return d == 2000; })
	.attr('text-anchor', 'end')
	.attr('x', 27);

svg.append('g')
	.attr('transform', 'translate(' + izq + ',0)')
	.call(d3.axisLeft(yRes).tickValues(ticksResidualMenores).tickSize(6).tickFormat(''))
	.call(eje);
svg.append('g')
	.attr('transform', 'translate(' + izq + ',0)')
	.call(d3.axisLeft(yRes).tickValues(ticksResidual).tickSize(12).tickPadding(6).tickFormat(entero))
	.call(eje);

svg.append('g')
	.attr('transform', 'translate(' + izq + ',0)')
	.call(d3.axisLeft(yFen).tickValues(ticksFenotipoMenores).tickSize(6).tickFormat(''))
	.call(eje);
svg.append('g')
	.attr('transform', 'translate(' + izq + ',0)')
	.call(d3.axisLeft(yFen).tickValues(ticksFenotipo).tickSize(12).tickPadding(6).tickFormat(entero))
	.call(eje);

// titulos
svg.append('text')
	.attr('class', 'titulo')
	.attr('x', (izq + der)/2)
	.attr('y', 1191)
	.attr('text-anchor', 'middle')
	.text('Valor genético estimado Kg leche');

svg.append('text')
	.attr('class', 'titulo')
	.attr('transform', 'translate(37,' + (arriba + medio)/2 + ') rotate(-90)')
	.attr('text-anchor', 'middle')
	.text('Residual Kg leche');

svg.append('text')
	.attr('class', 'titulo')
	.attr('transform', 'translate(37,' + (medio + abajo)/2 + ') rotate(-90)')
	.attr('text-anchor', 'middle')
	.text('Fenotipo corregido kg leche');

// --- nota ---
svg.selectAll('line.flecha')
	.data(flechas)
	.enter()
	.append('line')
	.attr('class', 'flecha')
	.attr('x1', function(d){ return x(d.x1); })
	.attr('y1', function(d){ return yRes(d.y1); })
	.attr('x2', function(d){ return x(d.x2); })
	.attr('y2', function(d){ return yRes(d.y2); })
	.attr('stroke', '#000')
	.attr('stroke-width', 2);

svg.append('rect')
	.attr('x', 292)
	.attr('y', 8)
	.attr('width', 469)
	.attr('height', 134)
	.attr('fill', 'none')
	.attr('stroke', '#000')
	.attr('stroke-width', 2.5);

svg.append('rect')
	.attr('x', 1126)
	.attr('y', 34)
	.attr('width', 80)
	.attr('height', 135)
	.attr('fill', 'none')
	.attr('stroke', '#000')
	.attr('stroke-width', 2.5);

svg.selectAll('text.nota')
	.data(notaTextos)
	.enter()
	.append('text')
	.attr('class', 'nota')
	.attr('x', 526)
	.attr('y', function(d, i){ return 64 + i*55; })
	.attr('text-anchor', 'middle')
	.attr('textLength', function(d, i){ return i == 0 ? 187 : 348; })
	.attr('lengthAdjust', 'spacingAndGlyphs')
	.text(function(d){ return d; });

</script>
</body>
</html>
